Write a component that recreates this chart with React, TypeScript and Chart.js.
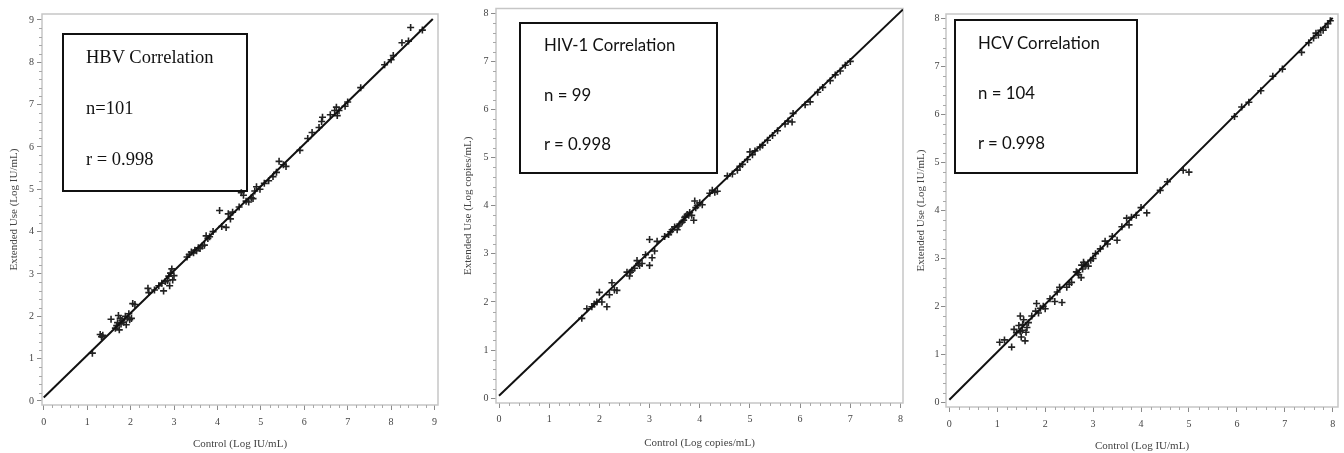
import React, { useEffect, useRef } from 'react';
import { Chart, registerables } from 'chart.js';

Chart.register(...registerables);

// ---------- HBV ----------
const hbvControl = [
  1.12, 1.30, 1.33, 1.36, 1.55, 1.65, 1.68, 1.70, 1.72, 1.74, 1.76, 1.78, 1.80, 1.84, 1.88, 1.90, 1.93, 1.96, 1.98, 2.02,
  2.05, 2.10, 2.40, 2.42, 2.55, 2.65, 2.72, 2.76, 2.80, 2.85, 2.88, 2.90, 2.92, 2.95, 2.97, 3.00, 3.30, 3.35, 3.40, 3.45,
  3.48, 3.52, 3.56, 3.60, 3.65, 3.70, 3.74, 3.78, 3.82, 3.90, 4.05, 4.10, 4.20, 4.25, 4.30, 4.35, 4.50, 4.55, 4.60, 4.66,
  4.72, 4.78, 4.82, 4.86, 4.90, 4.98, 5.08, 5.18, 5.28, 5.36, 5.42, 5.52, 5.58, 5.90, 6.08, 6.18, 6.34, 6.40, 6.42, 6.60,
  6.70, 6.74, 6.76, 6.80, 6.94, 7.00, 7.30, 7.85, 8.00, 8.05, 8.25, 8.40, 8.45, 8.72,
];
const hbvExtended = [
  1.13, 1.57, 1.52, 1.55, 1.93, 1.72, 1.78, 1.85, 2.02, 1.68, 1.95, 1.82, 1.90, 1.86, 2.00, 1.80, 1.96, 2.06, 1.92, 1.95,
  2.30, 2.28, 2.66, 2.56, 2.62, 2.72, 2.78, 2.60, 2.82, 2.84, 2.95, 2.72, 3.02, 3.12, 2.86, 2.96, 3.40, 3.46, 3.52, 3.50,
  3.56, 3.55, 3.62, 3.60, 3.66, 3.68, 3.90, 3.84, 3.88, 4.00, 4.50, 4.12, 4.10, 4.42, 4.30, 4.46, 4.58, 4.92, 4.86, 4.72,
  4.70, 4.80, 4.78, 4.96, 5.06, 5.00, 5.14, 5.20, 5.30, 5.40, 5.66, 5.58, 5.54, 5.92, 6.20, 6.34, 6.46, 6.60, 6.70, 6.76,
  6.86, 6.94, 6.74, 6.86, 6.96, 7.06, 7.40, 7.94, 8.06, 8.16, 8.46, 8.50, 8.82, 8.76,
];
const hbvLineX = [0, 8.96];
const hbvLineY = [0.08, 9.02];

// ---------- HIV-1 ----------
const hivControl = [
  1.65, 1.75, 1.85, 1.90, 1.95, 2.00, 2.05, 2.15, 2.20, 2.25, 2.30, 2.35, 2.55, 2.60, 2.62, 2.65, 2.70, 2.75, 2.78, 2.80,
  2.85, 2.92, 3.00, 3.00, 3.05, 3.10, 3.15, 3.30, 3.38, 3.42, 3.45, 3.50, 3.55, 3.58, 3.60, 3.65, 3.68, 3.70, 3.72, 3.75,
  3.78, 3.80, 3.84, 3.88, 3.90, 3.92, 3.95, 4.00, 4.05, 4.20, 4.25, 4.30, 4.35, 4.55, 4.65, 4.75, 4.80, 4.85, 4.95, 5.00,
  5.05, 5.10, 5.20, 5.25, 5.35, 5.45, 5.55, 5.70, 5.76, 5.84, 5.86, 6.10, 6.20, 6.35, 6.45, 6.60, 6.70, 6.80, 6.90, 7.00,
];
const hivExtended = [
  1.66, 1.86, 1.90, 1.96, 2.00, 2.20, 2.00, 1.90, 2.15, 2.40, 2.25, 2.24, 2.62, 2.54, 2.62, 2.66, 2.70, 2.86, 2.80, 2.76,
  2.80, 2.98, 2.76, 3.30, 2.92, 3.06, 3.26, 3.36, 3.40, 3.46, 3.50, 3.56, 3.50, 3.58, 3.62, 3.66, 3.70, 3.76, 3.78, 3.82,
  3.80, 3.86, 3.80, 3.70, 4.10, 3.96, 4.00, 4.06, 4.02, 4.26, 4.32, 4.28, 4.30, 4.62, 4.66, 4.74, 4.82, 4.86, 4.96, 5.12,
  5.06, 5.14, 5.22, 5.26, 5.36, 5.46, 5.56, 5.70, 5.76, 5.74, 5.92, 6.10, 6.16, 6.36, 6.46, 6.60, 6.72, 6.80, 6.92, 7.00,
];
const hivLineX = [0, 8.05];
const hivLineY = [0.05, 8.08];

// ---------- HCV ----------
const hcvControl = [
  1.05, 1.15, 1.30, 1.35, 1.40, 1.45, 1.48, 1.48, 1.50, 1.52, 1.53, 1.55, 1.58, 1.60, 1.62, 1.65, 1.72, 1.80, 1.82, 1.86,
  1.90, 1.96, 2.00, 2.10, 2.20, 2.25, 2.30, 2.35, 2.45, 2.50, 2.55, 2.65, 2.68, 2.70, 2.75, 2.76, 2.78, 2.80, 2.82, 2.85,
  2.90, 2.95, 3.00, 3.05, 3.15, 3.25, 3.30, 3.40, 3.50, 3.60, 3.70, 3.75, 3.80, 3.90, 4.00, 4.12, 4.40, 4.55, 4.88, 5.00,
  5.95, 6.10, 6.25, 6.50, 6.75, 6.95, 7.35, 7.50, 7.60, 7.65, 7.70, 7.75, 7.80, 7.85, 7.90, 7.95,
];
const hcvExtended = [
  1.25, 1.30, 1.15, 1.52, 1.45, 1.60, 1.80, 1.48, 1.36, 1.50, 1.62, 1.72, 1.28, 1.46, 1.56, 1.66, 1.80, 1.90, 2.06, 1.86,
  1.96, 2.00, 1.95, 2.16, 2.10, 2.30, 2.40, 2.08, 2.40, 2.46, 2.50, 2.72, 2.70, 2.66, 2.60, 2.86, 2.78, 2.92, 2.88, 2.86,
  2.84, 2.96, 3.00, 3.10, 3.20, 3.36, 3.30, 3.46, 3.38, 3.66, 3.84, 3.70, 3.86, 3.90, 4.06, 3.95, 4.42, 4.60, 4.84, 4.80,
  5.96, 6.16, 6.26, 6.50, 6.80, 6.95, 7.30, 7.50, 7.60, 7.70, 7.66, 7.76, 7.76, 7.82, 7.90, 7.96,
];
const hcvLineX = [0, 8.0];
const hcvLineY = [0.05, 8.02];

// ---------- labels ----------
const boxTitles = ['HBV Correlation', 'HIV-1 Correlation', 'HCV Correlation'];
const boxCounts = ['n=101', 'n = 99', 'n = 104'];
const boxR = ['r = 0.998', 'r = 0.998', 'r = 0.998'];
const xTitles = ['Control (Log IU/mL)', 'Control (Log copies/mL)', 'Control (Log IU/mL)'];
const yTitles = ['Extended Use (Log IU/mL)', 'Extended Use (Log copies/mL)', 'Extended Use (Log IU/mL)'];

const AXIS_FONT = "'Liberation Serif', 'Times New Roman', serif";

const framePlugin = {
  id: 'frameAndMinor',
  beforeDatasetsDraw(chart: any) {
    const { ctx, chartArea: a } = chart;
    ctx.save();
    ctx.strokeStyle = '#c6c6c6';
    ctx.lineWidth = 1.5;
    ctx.strokeRect(a.left, a.top, a.right - a.left, a.bottom - a.top);
    ctx.restore();
  },
  afterDraw(chart: any) {
    const { ctx, chartArea: a, scales } = chart;
    const xs = scales.x;
    const ys = scales.y;
    ctx.save();
    ctx.strokeStyle = '#a8a8a8';
    ctx.lineWidth = 1;
    ctx.beginPath();
    for (let i = Math.ceil(xs.min * 5); i <= Math.floor(xs.max * 5); i++) {
      if (i % 5 === 0) continue;
      const px = Math.round(xs.getPixelForValue(i / 5)) + 0.5;
      ctx.moveTo(px, a.bottom);
      ctx.lineTo(px, a.bottom + 3);
    }
    for (let i = Math.ceil(ys.min * 5); i <= Math.floor(ys.max * 5); i++) {
      if (i % 5 === 0) continue;
      const py = Math.round(ys.getPixelForValue(i / 5)) + 0.5;
      ctx.moveTo(a.left, py);
      ctx.lineTo(a.left - 3, py);
    }
    ctx.stroke();
    ctx.restore();
  },
};

type PanelProps = {
  left: number;
  width: number;
  ctrl: number[];
  ext: number[];
  lineX: number[];
  lineY: number[];
  xMin: number;
  xMax: number;
  yMin: number;
  yMax: number;
  padTop: number;
  padRight: number;
  yAxisWidth: number;
  xAxisHeight: number;
  xTickPad: number;
  yTickPad: number;
  xTitlePad: number;
  yTitlePad: number;
  xTitle: string;
  yTitle: string;
};

function Panel(p: PanelProps) {
  const ref = useRef<HTMLCanvasElement>(null);
  useEffect(() => {
    if (!ref.current) return;
    const pts = p.ctrl.map((x, i) => ({ x, y: p.ext[i] }));
    const line = p.lineX.map((x, i) => ({ x, y: p.lineY[i] }));
    const tickFont = { family: AXIS_FONT, size: 10 };
    const titleFont = { family: AXIS_FONT, size: 11 };
    const chart = new Chart(ref.current, {
      type: 'scatter',
      data: {
        datasets: [
          {
            type: 'line',
            data: line,
            borderColor: '#111',
            borderWidth: 2,
            pointRadius: 0,
            showLine: true,
            fill: false,
          } as any,
          {
            data: pts,
            pointStyle: 'cross',
            pointRadius: 3.5,
            pointBorderWidth: 1.6,
            borderColor: '#222',
            backgroundColor: '#222',
          } as any,
        ],
      },
      options: {
        animation: false,
        responsive: false,
        events: [],
        layout: { padding: { top: p.padTop, right: p.padRight, left: 0, bottom: 0 } },
        plugins: { legend: { display: false }, tooltip: { enabled: false } },
        scales: {
          x: {
            type: 'linear',
            min: p.xMin,
            max: p.xMax,
            border: { display: false },
            grid: { display: true, drawOnChartArea: false, drawTicks: true, tickLength: 5, tickColor: '#8a8a8a', tickWidth: 1 },
            ticks: {
              stepSize: 1,
              includeBounds: false,
              autoSkip: false,
              maxRotation: 0,
              padding: p.xTickPad,
              color: '#444',
              font: tickFont,
              callback: (v: any) => String(Math.round(Number(v))),
            },
            title: { display: true, text: p.xTitle, color: '#444', font: titleFont, padding: { top: 0, bottom: p.xTitlePad } },
            afterFit: (s: any) => {
              s.height = p.xAxisHeight;
            },
          },
          y: {
            type: 'linear',
            min: p.yMin,
            max: p.yMax,
            border: { display: false },
            grid: { display: true, drawOnChartArea: false, drawTicks: true, tickLength: 5, tickColor: '#8a8a8a', tickWidth: 1 },
            ticks: {
              stepSize: 1,
              includeBounds: false,
              autoSkip: false,
              padding: p.yTickPad,
              color: '#444',
              font: tickFont,
              callback: (v: any) => String(Math.round(Number(v))),
            },
            title: { display: true, text: p.yTitle, color: '#444', font: titleFont, padding: { top: p.yTitlePad, bottom: 0 } },
            afterFit: (s: any) => {
              s.width = p.yAxisWidth;
            },
          },
        },
      } as any,
      plugins: [framePlugin],
    });
    return () => chart.destroy();
  }, []);
  return (
    <canvas
      ref={ref}
      width={p.width}
      height={453}
      style={{ position: 'absolute', left: p.left, top: 0, width: p.width, height: 453 }}
    />
  );
}

type BoxProps = {
  left: number;
  top: number;
  width: number;
  height: number;
  textLeft: number;
  lineCenters: number[];
  font: string;
  fontSize: number;
  lines: string[];
};

function TextBox(b: BoxProps) {
  return (
    <>
      <div
        style={{
          position: 'absolute',
          left: b.left,
          top: b.top,
          width: b.width,
          height: b.height,
          border: '2px solid #111',
          boxSizing: 'border-box',
        }}
      />
      {b.lines.map((t, i) => (
        <div
          key={i}
          style={{
            position: 'absolute',
            left: b.textLeft,
            top: b.lineCenters[i] - 11,
            height: 22,
            lineHeight: '22px',
            fontFamily: b.font,
            fontSize: b.fontSize,
            color: '#111',
            whiteSpace: 'nowrap',
          }}
        >
          {t}
        </div>
      ))}
    </>
  );
}

export default function App() {
  return (
    <div style={{ position: 'absolute', left: 0, top: 0, width: 1344, height: 453, background: '#fff', overflow: 'hidden' }}>
      <Panel
        left={0}
        width={448}
        ctrl={hbvControl}
        ext={hbvExtended}
        lineX={hbvLineX}
        lineY={hbvLineY}
        xMin={-0.04}
        xMax={9.08}
        yMin={-0.095}
        yMax={9.14}
        padTop={14}
        padRight={10}
        yAxisWidth={42}
        xAxisHeight={48}
        xTickPad={6.5}
        yTickPad={3}
        xTitlePad={2}
        yTitlePad={7.4}
        xTitle={xTitles[0]}
        yTitle={yTitles[0]}
      />
      <Panel
        left={448}
        width={464}
        ctrl={hivControl}
        ext={hivExtended}
        lineX={hivLineX}
        lineY={hivLineY}
        xMin={-0.06}
        xMax={8.05}
        yMin={-0.1}
        yMax={8.1}
        padTop={7}
        padRight={9}
        yAxisWidth={48}
        xAxisHeight={50}
        xTickPad={5.5}
        yTickPad={2.5}
        xTitlePad={3.4}
        yTitlePad={14}
        xTitle={xTitles[1]}
        yTitle={yTitles[1]}
      />
      <Panel
        left={904}
        width={440}
        ctrl={hcvControl}
        ext={hcvExtended}
        lineX={hcvLineX}
        lineY={hcvLineY}
        xMin={-0.07}
        xMax={8.11}
        yMin={-0.1}
        yMax={8.1}
        padTop={14}
        padRight={6}
        yAxisWidth={42}
        xAxisHeight={46}
        xTickPad={6.5}
        yTickPad={1.5}
        xTitlePad={0.5}
        yTitlePad={10.4}
        xTitle={xTitles[2]}
        yTitle={yTitles[2]}
      />
      <TextBox
        left={62}
        top={33}
        width={186}
        height={159}
        textLeft={86}
        lineCenters={[57, 108, 159]}
        font="'Liberation Serif', 'Times New Roman', serif"
        fontSize={18.5}
        lines={[boxTitles[0], boxCounts[0], boxR[0]]}
      />
      <TextBox
        left={519}
        top={22}
        width={199}
        height={152}
        textLeft={544}
        lineCenters={[45, 95, 144]}
        font="Lato, 'Open Sans', sans-serif"
        fontSize={16.8}
        lines={[boxTitles[1], boxCounts[1], boxR[1]]}
      />
      <TextBox
        left={954}
        top={19}
        width={184}
        height={155}
        textLeft={978}
        lineCenters={[43, 93, 143]}
        font="Lato, 'Open Sans', sans-serif"
        fontSize={16.8}
        lines={[boxTitles[2], boxCounts[2], boxR[2]]}
      />
    </div>
  );
}
